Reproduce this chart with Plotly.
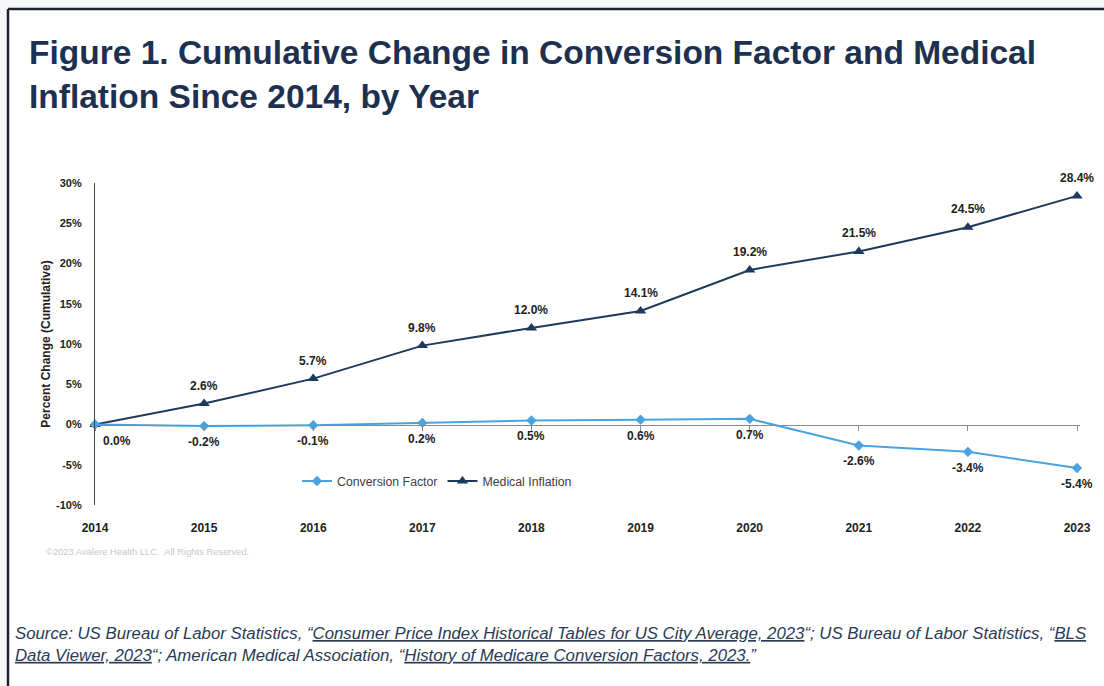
import plotly.graph_objects as go

years = [2014, 2015, 2016, 2017, 2018, 2019, 2020, 2021, 2022, 2023]
conversion_factor = [0.0, -0.2, -0.1, 0.2, 0.5, 0.6, 0.7, -2.6, -3.4, -5.4]
medical_inflation = [0.0, 2.6, 5.7, 9.8, 12.0, 14.1, 19.2, 21.5, 24.5, 28.4]
y_ticks = [-10, -5, 0, 5, 10, 15, 20, 25, 30]

NAVY = "#1d3a5c"
LIGHT = "#4aa3e0"
TITLE_C = "#1e3050"
FONT = "Liberation Sans, Arial, sans-serif"

W, H = 1104, 686
L, R, T, B = 95, 1080, 183, 505


def px(x):
    return (x - L) / (R - L)


def py(y):
    return (B - y) / (B - T)


fig = go.Figure()

fig.add_trace(go.Scatter(
    x=years, y=conversion_factor, name="Conversion Factor",
    mode="lines+markers", xaxis="x2",
    line=dict(color=LIGHT, width=2),
    marker=dict(symbol="diamond", size=8, color=LIGHT),
    cliponaxis=False,
))
fig.add_trace(go.Scatter(
    x=years, y=medical_inflation, name="Medical Inflation",
    mode="lines+markers",
    line=dict(color=NAVY, width=2),
    marker=dict(symbol="triangle-up", size=10, color=NAVY),
    cliponaxis=False,
))

annotations = []
for i, (yr, v) in enumerate(zip(years, medical_inflation)):
    if i == 0:
        continue
    annotations.append(dict(x=yr, y=v, text=f"<b>{v:.1f}%</b>", showarrow=False,
                            yshift=18, font=dict(size=12, color="#222", family=FONT)))
for i, (yr, v) in enumerate(zip(years, conversion_factor)):
    annotations.append(dict(x=yr, y=v, xref="x2", text=f"<b>{v:.1f}%</b>", showarrow=False,
                            yshift=-16, xshift=22 if i == 0 else 0,
                            font=dict(size=12, color="#222", family=FONT)))

annotations.append(dict(
    xref="paper", yref="paper", x=px(27), y=py(32), xanchor="left", yanchor="top",
    text="<b>Figure 1. Cumulative Change in Conversion Factor and Medical<br>Inflation Since 2014, by Year</b>",
    showarrow=False, align="left",
    font=dict(size=33.5, color=TITLE_C, family=FONT)))

annotations.append(dict(
    xref="paper", yref="paper", x=px(44), y=py(551), xanchor="left", yanchor="middle",
    text="©2023 Avalere Health LLC.  All Rights Reserved.", showarrow=False,
    font=dict(size=9.4, color="#c8c8c8", family=FONT)))

U = "<span style='text-decoration:underline;text-decoration-color:#4a90c8'>"
src = ("<i>Source: US Bureau of Labor Statistics, “" + U + "Consumer Price Index Historical Tables for US City Average, 2023</span>“; "
       "US Bureau of Labor Statistics, “" + U + "BLS</span><br>" + U + "Data Viewer, 2023</span>“; American Medical Association, “"
       + U + "History of Medicare Conversion Factors, 2023.</span>”</i>")
annotations.append(dict(
    xref="paper", yref="paper", x=px(13), y=py(622), xanchor="left", yanchor="top",
    text=src, showarrow=False, align="left",
    font=dict(size=16.8, color="#2b3a55", family=FONT)))

shapes = [
    dict(type="rect", xref="paper", yref="paper", x0=px(0), x1=px(W), y0=py(0), y1=py(8),
         fillcolor="#f6f6f6", line=dict(width=0), layer="below"),
    dict(type="rect", xref="paper", yref="paper", x0=px(0), x1=px(7), y0=py(0), y1=py(H),
         fillcolor="#f6f6f6", line=dict(width=0), layer="below"),
    dict(type="line", xref="paper", yref="paper", x0=px(8), x1=px(W), y0=py(9), y1=py(9),
         line=dict(color="#1c2230", width=2.5)),
    dict(type="line", xref="paper", yref="paper", x0=px(8), x1=px(8), y0=py(9), y1=py(H),
         line=dict(color="#1c2230", width=2.5)),
]

x_end = 2014 + (R - L) / ((1077 - L) / 9)

fig.update_layout(
    width=W, height=H,
    margin=dict(l=L, r=W - R, t=T, b=H - B),
    paper_bgcolor="white", plot_bgcolor="white",
    font=dict(family=FONT, color="#222"),
    showlegend=True,
    legend=dict(orientation="h", x=px(437), y=py(481), xanchor="center", yanchor="middle",
                font=dict(size=12.3, color="#404040", family=FONT), bgcolor="rgba(0,0,0,0)",
                itemwidth=30, traceorder="normal"),
    xaxis=dict(range=[2014, x_end], tickvals=years, ticktext=[f"<b>{y}</b>" for y in years],
               showline=False, showgrid=False, zeroline=False, ticks="", ticklabelstandoff=14,
               tickfont=dict(size=12, color="#222", family=FONT)),
    xaxis2=dict(range=[2014, x_end], overlaying="x", anchor="free", position=0.25,
                tickvals=years, showticklabels=False, showline=True, linecolor="#8a8a8a",
                linewidth=1.2, ticks="outside", ticklen=5, tickcolor="#8a8a8a",
                showgrid=False, zeroline=False),
    yaxis=dict(range=[-10, 30], tickvals=y_ticks, ticktext=[f"<b>{t}%</b>" for t in y_ticks],
               showline=True, linecolor="#444", linewidth=1.2, showgrid=False, zeroline=False,
               ticks="", ticklabelstandoff=10,
               tickfont=dict(size=11, color="#222", family=FONT),
               title=dict(text="<b>Percent Change (Cumulative)</b>", standoff=2,
                          font=dict(size=12, color="#222", family=FONT))),
    annotations=annotations,
    shapes=shapes,
)

fig.write_html("out.html")
